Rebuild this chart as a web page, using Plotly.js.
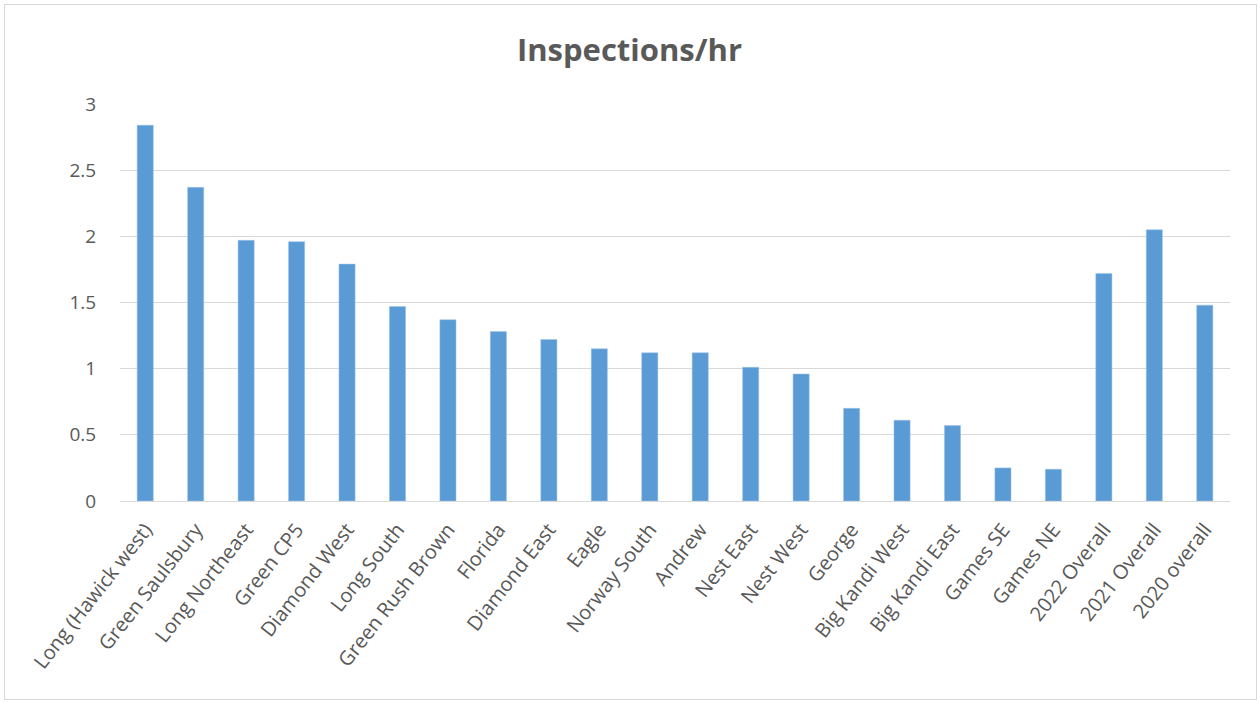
<!DOCTYPE html>
<html>
<head>
<meta charset="utf-8">
<script src="https://cdn.plot.ly/plotly-3.0.1.min.js"></script>
<style>
  html, body { margin: 0; padding: 0; background: #ffffff; }
  #chart { width: 1259px; height: 702px; }
  #frame { position: absolute; left: 4px; top: 4px; width: 1251px; height: 694px; border: 1px solid #d9d9d9; pointer-events: none; }
</style>
</head>
<body>
<div id="chart"></div>
<div id="frame"></div>
<script>
const categories = [
  "Long (Hawick west)", "Green Saulsbury", "Long Northeast", "Green CP5", "Diamond West",
  "Long South", "Green Rush Brown", "Florida", "Diamond East", "Eagle",
  "Norway South", "Andrew", "Nest East", "Nest West", "George",
  "Big Kandi West", "Big Kandi East", "Games SE", "Games NE",
  "2022 Overall", "2021 Overall", "2020 overall"
];
const inspectionsPerHour = [
  2.84, 2.37, 1.97, 1.96, 1.79,
  1.47, 1.37, 1.28, 1.22, 1.15,
  1.12, 1.12, 1.01, 0.96, 0.70,
  0.61, 0.57, 0.25, 0.24,
  1.72, 2.05, 1.48
];
const yTickValues = [0, 0.5, 1, 1.5, 2, 2.5, 3];
const yTickLabels = ["0", "0.5", "1", "1.5", "2", "2.5", "3"];
const chartTitle = "Inspections/hr";

const trace = {
  type: "bar",
  x: categories,
  y: inspectionsPerHour,
  marker: { color: "#5b9bd5", line: { color: "#9dc3e6", width: 0.5 } },
  hoverinfo: "x+y"
};

const layout = {
  width: 1259,
  height: 702,
  margin: { l: 120, r: 29, t: 104, b: 201 },
  paper_bgcolor: "#ffffff",
  plot_bgcolor: "#ffffff",
  font: { family: "Open Sans, Noto Sans, sans-serif", color: "#595959", size: 18 },
  title: {
    text: "<b>" + chartTitle + "</b>",
    font: { family: "Open Sans, sans-serif", size: 31, color: "#595959" },
    x: 0.5,
    xanchor: "center",
    y: 0.928,
    yanchor: "middle"
  },
  bargap: 0.68,
  showlegend: false,
  xaxis: {
    type: "category",
    tickangle: -52,
    tickfont: { size: 20, color: "#595959" },
    showgrid: false,
    showline: true,
    linecolor: "#d9d9d9",
    linewidth: 1,
    ticks: "outside",
    ticklen: 8,
    tickcolor: "rgba(0,0,0,0)",
    automargin: false
  },
  yaxis: {
    range: [0, 3],
    tickvals: yTickValues,
    ticktext: yTickLabels,
    tickfont: { size: 19, color: "#595959" },
    showgrid: true,
    gridcolor: "#d9d9d9",
    gridwidth: 1,
    zeroline: false,
    showline: false,
    ticks: "outside",
    ticklen: 19,
    tickcolor: "rgba(0,0,0,0)",
    automargin: false
  }
};

Plotly.newPlot("chart", [trace], layout, { displayModeBar: false, staticPlot: true });
</script>
</body>
</html>
